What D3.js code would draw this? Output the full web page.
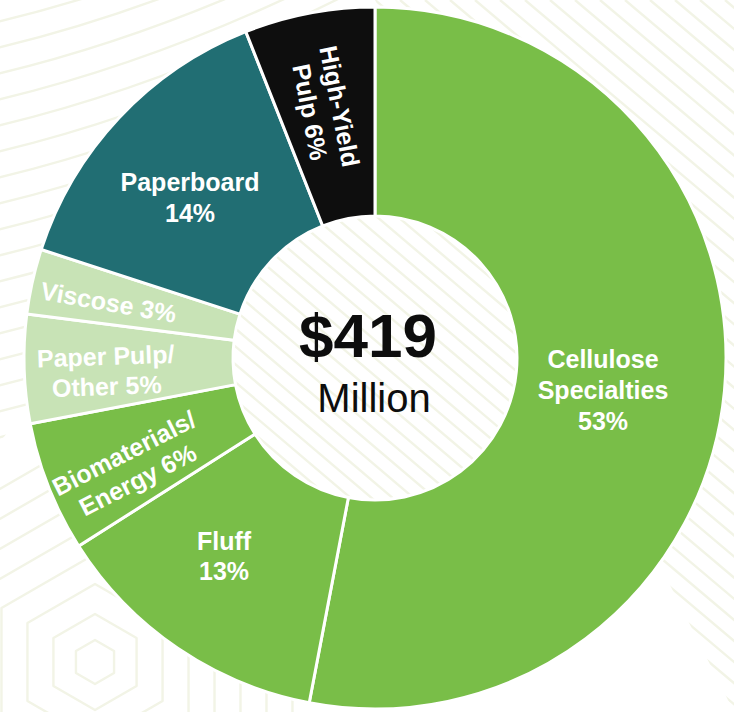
<!DOCTYPE html>
<html>
<head>
<meta charset="utf-8">
<script src="https://cdn.jsdelivr.net/npm/d3@7"></script>
<style>
  html, body { margin: 0; padding: 0; background: #ffffff; }
  svg { display: block; }
  text { font-family: "Liberation Sans", Arial, sans-serif; }
</style>
</head>
<body>
<svg id="chart" width="734" height="712"></svg>
<script>
// Revenue mix by product line (share of total, %), clockwise from 12 o'clock
const segments = ["Cellulose Specialties", "Fluff", "Biomaterials/Energy", "Paper Pulp/Other", "Viscose", "Paperboard", "High-Yield Pulp"];
const shares = [53, 13, 6, 5, 3, 14, 6];
const segmentColors = ["#79be48", "#79be48", "#79be48", "#c8e3b6", "#c8e3b6", "#216e73", "#0e0e0e"];
// label wording; the share is appended to the last line
const labelLines = [
  ["Cellulose", "Specialties", ""],
  ["Fluff", ""],
  ["Biomaterials/", "Energy"],
  ["Paper Pulp/", "Other"],
  ["Viscose"],
  ["Paperboard", ""],
  ["High-Yield", "Pulp"]
];
const totalValue = "$419";
const totalUnit = "Million";

// label placement: baseline centre of the first line, rotation, line step
const labelLayout = [
  { x: 603, y: 368, rot: 0, step: 31 },
  { x: 224, y: 550, rot: 0, step: 30 },
  { x: 128, y: 461, rot: -27, step: 30 },
  { x: 106, y: 365, rot: -2, step: 30 },
  { x: 107, y: 311, rot: 10, step: 30 },
  { x: 190, y: 191, rot: 0, step: 31 },
  { x: 331, y: 108, rot: 79, step: 30 }
];

const W = 734, H = 712;
const cx = 375, cy = 358;
const outerR = 351, innerR = 142;
const lineColor = "#f2f4e6";

const svg = d3.select("#chart");
const defs = svg.append("defs");

// ---- faint background texture ----
const bg = svg.append("g").attr("fill", "none").attr("stroke", lineColor).attr("stroke-width", 2.4);

// upper-left: gently curved lines rising to the right
defs.append("clipPath").attr("id", "clipUL")
  .append("path").attr("d", `M0,0 H${cx} L0,${H * 0.62} Z`);
const ul = bg.append("g").attr("clip-path", "url(#clipUL)");
d3.range(-6, 30).forEach(i => {
  const y0 = i * 26;
  ul.append("path").attr("d", `M-20,${y0} Q200,${y0 - 50} 420,${y0 - 175}`);
});

// upper-right: lines falling to the right
defs.append("clipPath").attr("id", "clipUR")
  .append("path").attr("d", `M${cx},0 H${W} V${H} Z`);
const ur = bg.append("g").attr("clip-path", "url(#clipUR)");
d3.range(-30, 40).forEach(i => {
  const x0 = i * 25;
  ur.append("line").attr("x1", x0).attr("y1", 0).attr("x2", x0 + 900).attr("y2", 760);
});

// lower-left: nested hexagons
const hexC = [95, 662];
const hexPath = r => {
  const pts = d3.range(6).map(k => {
    const a = Math.PI / 3 * k - Math.PI / 2;
    return [hexC[0] + r * Math.cos(a), hexC[1] + r * Math.sin(a)];
  });
  return d3.line().curve(d3.curveLinearClosed)(pts);
};
defs.append("clipPath").attr("id", "clipLL")
  .append("path").attr("d", `M0,${H * 0.62} L${cx},0 V${H} H0 Z`);
const ll = bg.append("g").attr("clip-path", "url(#clipLL)").attr("stroke-linejoin", "round");
[22, 48, 78, 108, 138, 168, 198, 228].forEach(r => ll.append("path").attr("d", hexPath(r)));

// ---- donut ----
const pie = d3.pie().sort(null).value(d => d).startAngle(0).endAngle(2 * Math.PI);
const arc = d3.arc().innerRadius(innerR).outerRadius(outerR);
const arcs = pie(shares);

const g = svg.append("g").attr("transform", `translate(${cx},${cy})`);
g.selectAll("path.slice")
  .data(arcs)
  .join("path")
  .attr("class", "slice")
  .attr("d", arc)
  .attr("fill", (d, i) => segmentColors[i])
  .attr("stroke", "#ffffff")
  .attr("stroke-width", 3)
  .attr("stroke-linejoin", "miter");

// centre disc with diagonal texture
defs.append("clipPath").attr("id", "clipHole")
  .append("circle").attr("r", innerR - 1.5);
g.append("circle").attr("r", innerR - 1.5).attr("fill", "#ffffff");
const hole = g.append("g").attr("clip-path", "url(#clipHole)")
  .attr("stroke", lineColor).attr("stroke-width", 2.4);
d3.range(-20, 21).forEach(i => {
  const x0 = i * 21;
  hole.append("line").attr("x1", x0 - 200).attr("y1", -170).attr("x2", x0 + 200).attr("y2", 170);
});

// centre total
g.append("text")
  .attr("x", -7).attr("y", -1)
  .attr("text-anchor", "middle")
  .attr("font-size", 62).attr("font-weight", "bold")
  .attr("fill", "#0d0d0d")
  .text(totalValue);
g.append("text")
  .attr("x", -1).attr("y", 54)
  .attr("text-anchor", "middle")
  .attr("font-size", 40)
  .attr("fill", "#0d0d0d")
  .text(totalUnit);

// ---- segment labels ----
const labels = svg.append("g").attr("fill", "#ffffff").attr("font-weight", "bold").attr("font-size", 25);
arcs.forEach((a, i) => {
  const lay = labelLayout[i];
  const lines = labelLines[i].slice();
  const last = lines.length - 1;
  lines[last] = (lines[last] ? lines[last] + " " : "") + shares[i] + "%";
  const t = labels.append("text")
    .attr("text-anchor", "middle")
    .attr("transform", `translate(${lay.x},${lay.y}) rotate(${lay.rot})`);
  lines.forEach((s, k) => {
    t.append("tspan").attr("x", 0).attr("y", k * lay.step).text(s);
  });
});
</script>
</body>
</html>
